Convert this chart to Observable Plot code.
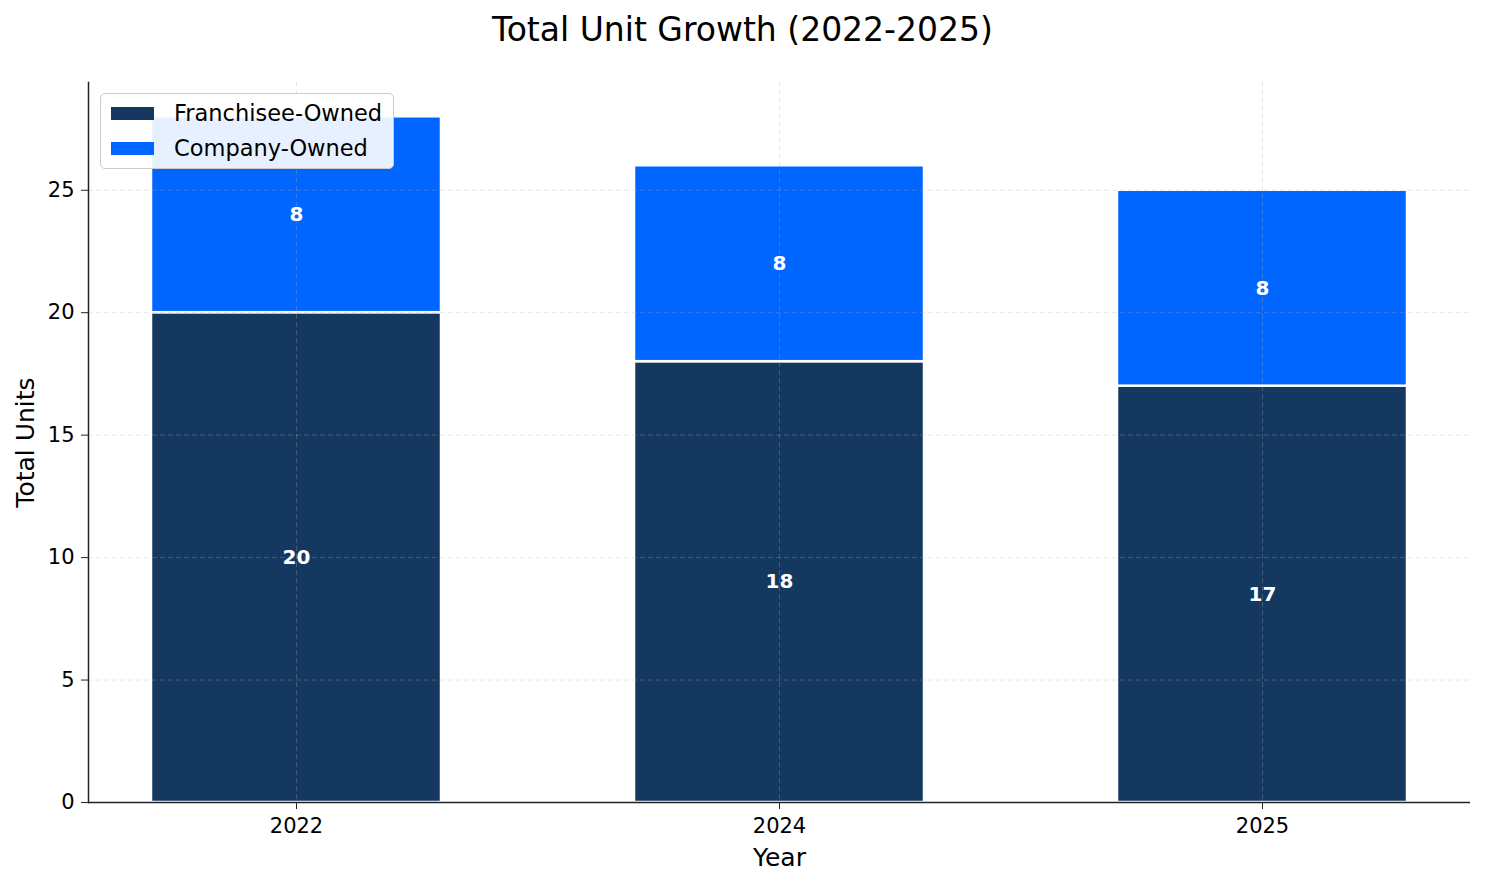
<!DOCTYPE html>
<html>
<head>
<meta charset="utf-8">
<script src="https://cdn.jsdelivr.net/npm/d3@7"></script>
<script src="https://cdn.jsdelivr.net/npm/@observablehq/plot@0.6"></script>
<style>
  html, body { margin: 0; padding: 0; background: #fff; font-family: "DejaVu Sans", sans-serif; }
  #wrap { position: relative; width: 1485px; height: 884px; }
  #title { position: absolute; left: 0; top: 10px; width: 1485px; text-align: center; font-size: 33px; color: #000; line-height: 40px; }
  #chart { position: absolute; left: 0; top: 60px; }
  #legend { position: absolute; left: 100px; top: 93px; width: 294px; height: 76px; border: 1px solid #cccccc; border-radius: 5px; background: rgba(255,255,255,0.9); box-sizing: border-box; }
  .item { position: absolute; left: 10px; height: 26px; display: flex; align-items: center; font-size: 22.5px; color: #000; white-space: nowrap; }
  .sw { width: 43px; height: 13px; margin-right: 20px; }
</style>
</head>
<body>
<div id="wrap">
  <div id="title">Total Unit Growth (2022-2025)</div>
  <div id="chart"></div>
  <div id="legend"></div>
</div>
<script>
const years = ["2022", "2024", "2025"];
const franchisee = [20, 18, 17];
const company = [8, 8, 8];
const seriesNames = ["Franchisee-Owned", "Company-Owned"];
const seriesColors = ["#14385f", "#0066ff"];
const yTicks = [0, 5, 10, 15, 20, 25];

const data = [];
years.forEach((y, i) => {
  data.push({year: y, series: seriesNames[0], value: franchisee[i]});
  data.push({year: y, series: seriesNames[1], value: company[i]});
});

const chart = Plot.plot({
  width: 1485,
  height: 824,
  marginTop: 22,
  marginBottom: 82,
  marginLeft: 88,
  marginRight: 15,
  style: {fontFamily: "DejaVu Sans, sans-serif", fontSize: "21px", color: "#000", background: "#fff"},
  x: {domain: years, paddingInner: 0.4, paddingOuter: 0.13, label: null},
  y: {domain: [0, 29.4], label: null},
  color: {domain: seriesNames, range: seriesColors},
  marks: [
    Plot.barY(data, Plot.stackY({x: "year", y: "value", fill: "series", order: seriesNames, stroke: "#fff", strokeWidth: 2.5})),
    Plot.ruleY(yTicks.slice(1), {stroke: "#b0b0b0", strokeOpacity: 0.3, strokeDasharray: "5,3", strokeWidth: 1}),
    Plot.ruleX(years, {stroke: "#b0b0b0", strokeOpacity: 0.3, strokeDasharray: "5,3", strokeWidth: 1}),
    Plot.text(data, Plot.stackY({x: "year", y: "value", order: seriesNames, z: "series", text: d => String(d.value), fill: "#fff", fontWeight: "bold", fontSize: 20})),
    Plot.axisY({ticks: yTicks, tickSize: 7, tickPadding: 7, fontSize: 21, stroke: "#222", label: null}),
    Plot.axisX({tickSize: 7, tickPadding: 9, fontSize: 21, stroke: "#222", label: null}),
    Plot.ruleY([0], {stroke: "#222", strokeWidth: 1.5}),
    Plot.frame({anchor: "left", stroke: "#222", strokeWidth: 1.5}),
    Plot.text(["Year"], {frameAnchor: "bottom", lineAnchor: "middle", dy: 55, fontSize: 25, fill: "#000"}),
    Plot.text(["Total Units"], {frameAnchor: "left", textAnchor: "middle", lineAnchor: "middle", dx: -63, rotate: -90, fontSize: 25, fill: "#000"})
  ]
});
document.getElementById("chart").appendChild(chart);

const legend = document.getElementById("legend");
seriesNames.forEach((name, i) => {
  const item = document.createElement("div");
  item.className = "item";
  item.style.top = (6 + i * 35) + "px";
  const sw = document.createElement("div");
  sw.className = "sw";
  sw.style.background = seriesColors[i];
  const label = document.createElement("span");
  label.textContent = name;
  item.appendChild(sw);
  item.appendChild(label);
  legend.appendChild(item);
});
</script>
</body>
</html>
